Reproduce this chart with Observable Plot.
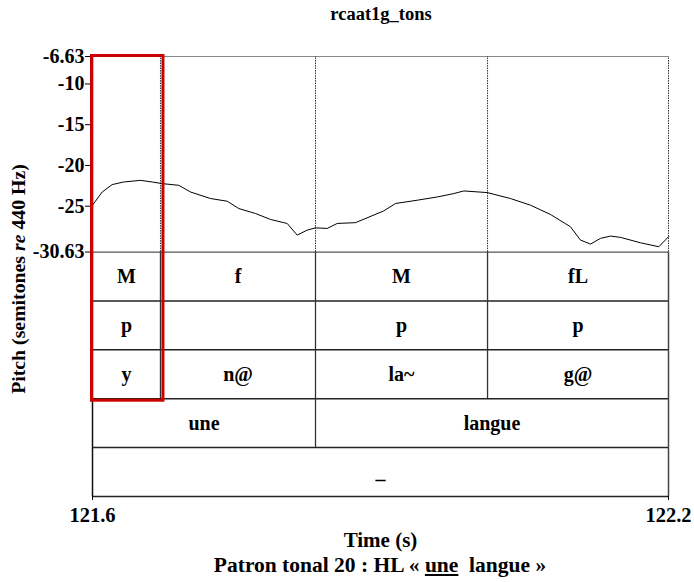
<!DOCTYPE html>
<html><head><meta charset="utf-8">
<script src="https://cdn.jsdelivr.net/npm/d3@7"></script>
<script src="https://cdn.jsdelivr.net/npm/@observablehq/plot@0.6"></script>
<style>
body{margin:0;background:#fff;}
#wrap{position:relative;width:694px;height:582px;font-family:"Liberation Serif","Times New Roman",serif;font-weight:bold;color:#000;}
#wrap svg{position:absolute;left:0;top:0;}
.ov{position:absolute;white-space:pre;line-height:1;}
</style></head><body>
<div id="wrap">
<div id="title" class="ov" style="left:381px;top:5px;transform:translateX(-50%);font-size:18.5px;">rcaat1g_tons</div>
<div id="ylab" class="ov" style="left:19px;top:279px;transform:translate(-50%,-50%) rotate(-90deg);font-size:19.8px;">Pitch (semitones <i>re</i> 440 Hz)</div>
<div id="cap" class="ov" style="left:380px;top:555px;transform:translateX(-50%);font-size:21.5px;">Patron tonal 20 : HL « <u>une</u>  langue »</div>
</div>
<script>
// Pitch contour (time in s, pitch in semitones re 440 Hz)
const pitchTime = [121.6000,121.6101,121.6205,121.6326,121.6500,121.6622,121.6726,121.6899,121.7021,121.7229,
  121.7403,121.7524,121.7698,121.7854,121.8028,121.8132,121.8236,121.8323,121.8445,121.8549,
  121.8740,121.9034,121.9156,121.9382,121.9591,121.9764,121.9868,122.0111,122.0354,122.0563,
  122.0771,122.0979,122.1083,122.1188,122.1292,122.1396,122.1500,122.1708,122.1899,122.2000];
const pitchValue = [-24.88,-23.26,-22.35,-22.03,-21.83,-22.03,-22.23,-22.44,-23.26,-24.06,
  -24.39,-25.29,-25.90,-26.63,-27.12,-28.55,-27.94,-27.66,-27.73,-27.12,
  -27.02,-25.58,-24.67,-24.27,-23.87,-23.45,-23.13,-23.33,-24.06,-24.88,
  -26.02,-27.53,-29.16,-29.65,-28.95,-28.67,-28.83,-29.49,-29.98,-28.76];

// Tiers
const tier1Bounds = [121.6, 121.6708, 121.8323, 122.0115, 122.2];
const tier1Labels = ["M", "f", "M", "fL"];
const tier2Labels = ["p", "", "p", "p"];
const tier3Labels = ["y", "n@", "la~", "g@"];
const tier4Bounds = [121.6, 121.8323, 122.2];
const tier4Labels = ["une", "langue"];
const tier5Bounds = [121.6, 122.2];
const tier5Labels = ["_"];

// Axis ticks
const yTicks = [-6.63, -10, -15, -20, -25, -30.63];
const xTicks = [121.6, 122.2];
const timeDomain = [121.6, 122.2];
const pitchMin = -30.63, pitchMax = -6.63;
const tierSpan = 6; // each tier occupies this many y-units below the pitch area

const tierBounds = [tier1Bounds, tier1Bounds, tier1Bounds, tier4Bounds, tier5Bounds];
const tierLabels = [tier1Labels, tier2Labels, tier3Labels, tier4Labels, tier5Labels];
const nTiers = tierLabels.length;
const yBottom = pitchMin - tierSpan * nTiers;

const cells = [];
const seps = [];
tierLabels.forEach((labels, i) => {
  const top = pitchMin - tierSpan * i, bottom = pitchMin - tierSpan * (i + 1);
  labels.forEach((lab, j) => cells.push({x1: tierBounds[i][j], x2: tierBounds[i][j + 1], top, bottom, label: lab}));
  tierBounds[i].slice(1, -1).forEach(b => seps.push({x: b, y1: bottom, y2: top}));
});
const tierLines = d3.range(1, nTiers + 1).map(k => pitchMin - tierSpan * k);
const dotted = tier1Bounds.slice(1).map(b => ({x: b, y1: pitchMin, y2: pitchMax}));
const contour = pitchTime.map((t, i) => ({t, p: pitchValue[i]}));
const highlight = [{x1: tier1Bounds[0], x2: tier1Bounds[1], y1: pitchMax, y2: pitchMin - tierSpan * 3}];

const FF = '"Liberation Serif","Times New Roman",serif';
const chart = Plot.plot({
  width: 694, height: 582,
  marginLeft: 92, marginRight: 26, marginTop: 56, marginBottom: 86,
  style: {fontFamily: FF, fontWeight: "bold", fontSize: "20px", color: "#000", background: "transparent"},
  x: {domain: timeDomain},
  y: {domain: [yBottom, pitchMax]},
  marks: [
    Plot.ruleY([pitchMax], {stroke: "#888", strokeWidth: 1.2}),
    Plot.ruleY([pitchMin], {stroke: "#555", strokeWidth: 1.2}),
    Plot.ruleY(tierLines, {stroke: "#222", strokeWidth: 1.5}),
    Plot.ruleX(dotted, {x: "x", y1: "y1", y2: "y2", stroke: "#333", strokeWidth: 1, strokeDasharray: "1.5,1"}),
    Plot.ruleX(seps, {x: "x", y1: "y1", y2: "y2", stroke: "#333", strokeWidth: 1.3}),
    Plot.ruleX([timeDomain[0]], {y1: yBottom, y2: pitchMax, stroke: "#111", strokeWidth: 1.5}),
    Plot.ruleX([timeDomain[1]], {y1: yBottom, y2: pitchMin, stroke: "#444", strokeWidth: 1.5}),
    Plot.line(contour, {x: "t", y: "p", stroke: "#000", strokeWidth: 1}),
    Plot.text(cells, {x: d => (d.x1 + d.x2) / 2, y: d => (d.top + d.bottom) / 2, text: "label", fontSize: 20, fontWeight: "bold", fill: "#000", fontFamily: FF}),
    Plot.axisY(yTicks, {tickFormat: d => String(d), tickSize: 7, tickPadding: 1, fontSize: 20, fontWeight: "bold", fontFamily: FF, label: null}),
    Plot.axisX(xTicks, {tickFormat: d => d.toFixed(1), tickSize: 4, tickPadding: 7, fontSize: 20.5, fontWeight: "bold", fontFamily: FF, label: null}),
    Plot.text(["Time (s)"], {frameAnchor: "bottom", dy: 50, fontSize: 21, fontWeight: "bold", fontFamily: FF}),
    Plot.rect(highlight, {x1: "x1", x2: "x2", y1: "y1", y2: "y2", fill: "none", stroke: "#cc0000", strokeWidth: 3, insetLeft: -0.5, insetRight: -3, insetTop: -0.5, insetBottom: -2})
  ]
});
document.getElementById("wrap").prepend(chart);
</script>
</body></html>
